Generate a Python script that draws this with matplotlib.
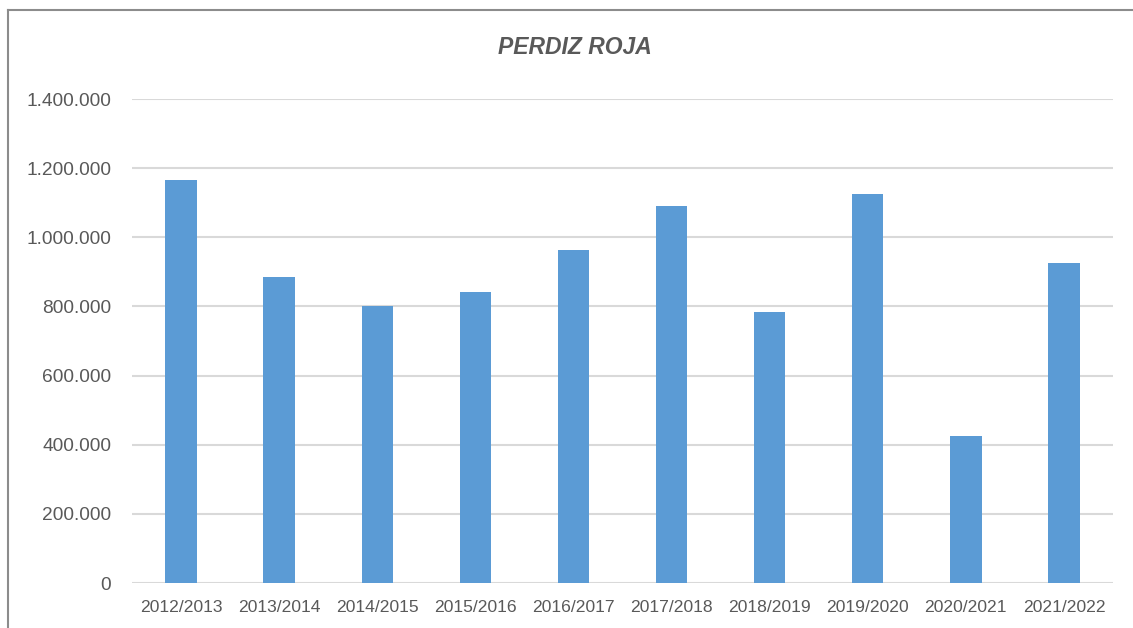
import matplotlib
matplotlib.use("Agg")
import matplotlib.pyplot as plt
from matplotlib.lines import Line2D
from matplotlib.ticker import FuncFormatter

# temporadas y capturas de perdiz roja
seasons = ["2012/2013", "2013/2014", "2014/2015", "2015/2016", "2016/2017",
           "2017/2018", "2018/2019", "2019/2020", "2020/2021", "2021/2022"]
catches = [1166000, 885000, 801000, 842000, 963000,
           1090000, 784000, 1125000, 425000, 926000]

plt.rcParams['font.family'] = ['Liberation Sans', 'DejaVu Sans']
txt = '#595959'

fig = plt.figure(figsize=(11.33, 6.28), dpi=100)
ax = fig.add_axes([132/1133, 1 - 583/628, (1113-132)/1133, (583-99)/628])

x = range(len(seasons))
ax.bar(x, catches, width=0.32, color='#5B9BD5', zorder=3)

ax.set_xlim(-0.5, len(seasons) - 0.5)
ax.set_ylim(0, 1400000)
ax.set_yticks(range(0, 1400001, 200000))
ax.yaxis.set_major_formatter(FuncFormatter(lambda v, p: "{:,.0f}".format(v).replace(",", ".")))
ax.set_xticks(list(x))
ax.set_xticklabels(seasons)

ax.grid(axis='y', color='#D9D9D9', linewidth=1.5, zorder=0)
for s in ['top', 'right', 'left', 'bottom']:
    ax.spines[s].set_visible(False)
ax.tick_params(axis='both', length=0, colors=txt)
ax.tick_params(axis='y', labelsize=13.8, pad=15)
ax.tick_params(axis='x', labelsize=12.6, pad=12)

fig.text(575/1133, 1 - 48/628, "PERDIZ ROJA", ha='center', va='center',
         fontsize=16.5, fontweight='bold', fontstyle='italic', color=txt)

# borde del grafico (recortado a la derecha y abajo)
fig.add_artist(Line2D([8/1133, 8/1133], [0, 1 - 10/628], color='#8C8C8C', linewidth=1.5))
fig.add_artist(Line2D([8/1133, 1], [1 - 10/628, 1 - 10/628], color='#8C8C8C', linewidth=1.5))

plt.savefig("out.png", dpi=100)
